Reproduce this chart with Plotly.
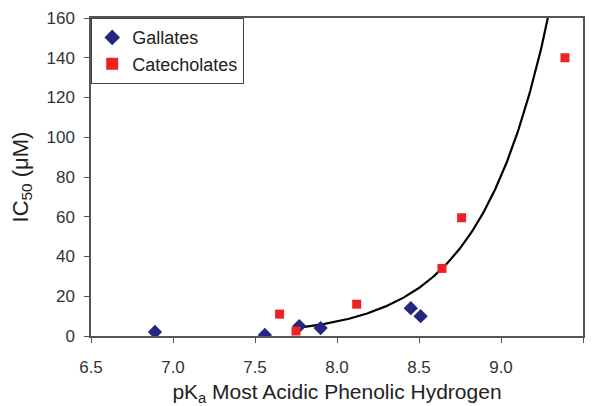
import numpy as np
import plotly.graph_objects as go

gallates_x = [6.89, 7.56, 7.77, 7.90, 8.45, 8.51]
gallates_y = [2.0, 0.5, 5.0, 4.0, 14.0, 10.0]
catechol_x = [7.65, 7.75, 8.12, 8.64, 8.76, 9.39]
catechol_y = [11.0, 2.5, 16.0, 34.0, 59.5, 140.0]

# exponential trendline coefficients: y = fit_a * exp(fit_b * (x - fit_x0))
fit_a, fit_b, fit_x0 = 4.1, 2.4, 7.76
fit_xmin, fit_xmax = 7.76, 9.32

xf = np.linspace(fit_xmin, fit_xmax, 200)
yf = fit_a * np.exp(fit_b * (xf - fit_x0))

fig = go.Figure()
fig.add_trace(go.Scatter(x=xf, y=yf, mode="lines", line=dict(color="black", width=2.2),
                         showlegend=False, hoverinfo="skip"))
fig.add_trace(go.Scatter(x=gallates_x, y=gallates_y, mode="markers", name="Gallates",
                         marker=dict(symbol="diamond", size=11, color="#262680")))
fig.add_trace(go.Scatter(x=catechol_x, y=catechol_y, mode="markers", name="Catecholates",
                         marker=dict(symbol="square", size=9, color="#ee2222")))

font = "Liberation Sans, Arial, sans-serif"
fig.update_layout(
    width=594, height=406,
    margin=dict(l=91, r=11, t=18, b=70),
    paper_bgcolor="white", plot_bgcolor="white",
    font=dict(family=font, color="#333333", size=17),
    legend=dict(x=0, y=1, xanchor="left", yanchor="top", bgcolor="white",
                bordercolor="#444444", borderwidth=1.2, font=dict(size=18, color="#222222"),
                tracegroupgap=0, itemsizing="constant", itemwidth=30),
    xaxis=dict(range=[6.5, 9.5], tickvals=[6.5, 7.0, 7.5, 8.0, 8.5, 9.0, 9.5],
               ticktext=["6.5", "7.0", "7.5", "8.0", "8.5", "9.0", "9.5"],
               automargin=False, ticklabelstandoff=10,
               showgrid=False, zeroline=False, showline=True, linecolor="#555555",
               linewidth=1.5, mirror=True, ticks="outside", ticklen=5, tickcolor="#555555",
               title=dict(text="pK<sub>a</sub> Most Acidic Phenolic Hydrogen",
                          font=dict(size=21, color="#222222"), standoff=8)),
    yaxis=dict(range=[0, 160], tickvals=list(range(0, 161, 20)),
               automargin=False, ticklabelstandoff=6,
               showgrid=False, zeroline=False, showline=True, linecolor="#555555",
               linewidth=1.5, mirror=True, ticks="outside", ticklen=5, tickcolor="#555555",
               title=dict(text="IC<sub>50</sub> (μM)", font=dict(size=22, color="#222222"),
                          standoff=12)),
)
fig.write_html("out.html", config={"displayModeBar": False},
               post_script="document.body.style.margin='0';document.body.style.overflow='hidden';")
